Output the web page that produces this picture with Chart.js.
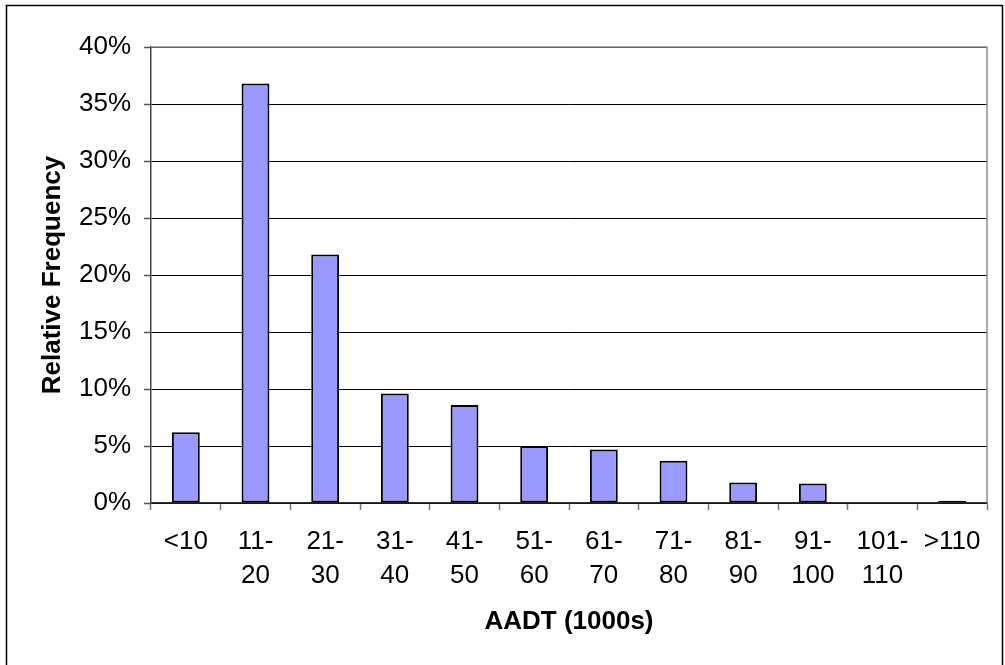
<!DOCTYPE html>
<html>
<head>
<meta charset="utf-8">
<script src="https://cdn.jsdelivr.net/npm/chart.js@4/dist/chart.umd.min.js"></script>
<style>
  html, body { margin: 0; padding: 0; background: #fff; }
  #wrap { position: relative; width: 1005px; height: 665px; }
</style>
</head>
<body>
<div id="wrap"><canvas id="c" width="1005" height="665"></canvas></div>
<script>
// AADT bins (thousands of vehicles per day)
const categories = [
  ['<10'], ['11-', '20'], ['21-', '30'], ['31-', '40'], ['41-', '50'], ['51-', '60'],
  ['61-', '70'], ['71-', '80'], ['81-', '90'], ['91-', '100'], ['101-', '110'], ['>110']
];
// Relative frequency of sites per bin, in percent
const relativeFrequency = [6.2, 36.8, 21.8, 9.6, 8.6, 5.0, 4.7, 3.7, 1.8, 1.7, 0, 0.2];
// Value axis range and step (percent)
const yMin = 0;
const yMax = 40;
const yStep = 5;

const FONT = "'Liberation Sans', Arial, sans-serif";

// Outer frame around the whole chart and grey border around the plot area
const framePlugin = {
  id: 'frame',
  beforeDraw(chart) {
    const ctx = chart.ctx;
    ctx.save();
    ctx.fillStyle = '#fff';
    ctx.fillRect(0, 0, chart.width, chart.height);
    ctx.strokeStyle = '#000';
    ctx.lineWidth = 1.5;
    ctx.strokeRect(6.5, 5.5, 996, 680);
    ctx.restore();
  },
  beforeDatasetsDraw(chart) {
    const { ctx, chartArea: a } = chart;
    ctx.save();
    ctx.strokeStyle = '#8c8c8c';
    ctx.lineWidth = 1.5;
    ctx.beginPath();
    ctx.moveTo(a.left, a.top);
    ctx.lineTo(a.right, a.top);
    ctx.lineTo(a.right, a.bottom);
    ctx.stroke();
    ctx.restore();
  }
};

new Chart(document.getElementById('c'), {
  type: 'bar',
  data: {
    labels: categories,
    datasets: [{
      data: relativeFrequency,
      backgroundColor: '#9999FF',
      borderColor: '#000',
      borderWidth: 2,
      borderSkipped: false,
      barPercentage: 0.4,
      categoryPercentage: 1.0
    }]
  },
  options: {
    responsive: false,
    animation: false,
    devicePixelRatio: 1,
    layout: { padding: { left: 30, top: 47, right: 18, bottom: 0 } },
    plugins: {
      legend: { display: false },
      tooltip: { enabled: false }
    },
    scales: {
      x: {
        offset: true,
        afterFit(scale) { scale.height = 162; },
        grid: {
          offset: true,
          drawOnChartArea: false,
          drawTicks: true,
          tickLength: 7,
          tickColor: '#777',
          tickWidth: 1.5
        },
        border: { display: true, color: '#333', width: 1.5 },
        ticks: {
          color: '#000',
          padding: 15,
          maxRotation: 0,
          autoSkip: false,
          font: { family: FONT, size: 26, lineHeight: 1.3 }
        },
        title: {
          display: true,
          text: 'AADT (1000s)',
          color: '#000',
          padding: { top: 0, bottom: 28 },
          font: { family: FONT, size: 26, weight: 'bold', lineHeight: 1.2 }
        }
      },
      y: {
        min: yMin,
        max: yMax,
        afterFit(scale) { scale.width = 121; },
        grid: {
          color: '#000',
          lineWidth: 1,
          drawTicks: true,
          tickLength: 7,
          tickColor: '#555',
          tickWidth: 1.5
        },
        border: { display: true, color: '#444', width: 1.5 },
        ticks: {
          stepSize: yStep,
          color: '#000',
          padding: 13,
          font: { family: FONT, size: 26 },
          callback: v => v + '%'
        },
        title: {
          display: true,
          text: 'Relative Frequency',
          color: '#000',
          padding: { top: 7, bottom: 0 },
          font: { family: FONT, size: 26, weight: 'bold', lineHeight: 1.2 }
        }
      }
    }
  },
  plugins: [framePlugin]
});
</script>
</body>
</html>
